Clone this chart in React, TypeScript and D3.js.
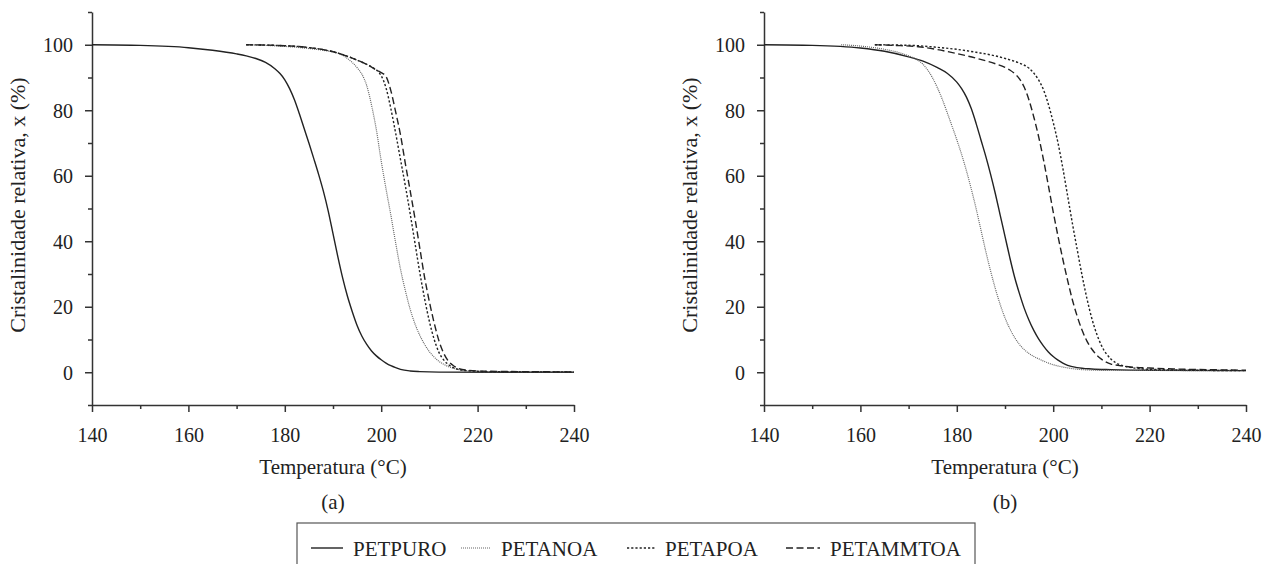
import React, { useEffect, useRef } from 'react';
import * as d3 from 'd3';

type Pt = [number, number];

// panel (a)
const petpuroA: Pt[] = [
  [140, 100], [150, 99.8], [160, 99.1], [165, 98.3], [170, 97.2], [172, 96.6], [174, 95.8], [176, 94.6],
  [178, 92.6], [179, 91.2], [180, 89.3], [181, 86.6], [182, 83.2], [183, 79], [184, 74.5], [185, 70],
  [186, 65.3], [187, 60.5], [188, 55.3], [189, 49.3], [190, 42.3], [191, 35.3], [192, 28.8], [193, 23.2],
  [194, 18.5], [195, 14.3], [196, 11], [197, 8.5], [198, 6.5], [199, 5], [200, 3.8], [201, 2.8],
  [202, 2.0], [203, 1.4], [204, 0.9], [206, 0.4], [208, 0.2], [212, 0.05], [240, 0],
];
const petanoaA: Pt[] = [
  [172, 100], [176, 99.8], [180, 99.5], [184, 99], [188, 98.3], [191, 97.5], [193, 95.8], [195, 93],
  [196, 91], [197, 87.5], [198, 81.5], [199, 74], [200, 64.5], [201, 56], [202, 48], [203, 39.5],
  [204, 31.5], [205, 25], [206, 19.3], [207, 14.8], [208, 11.3], [209, 8.5], [210, 6.3], [211, 4.6],
  [212, 3.3], [213, 2.4], [214, 1.7], [215, 1.2], [217, 0.6], [220, 0.3], [225, 0.1], [240, 0],
];
const petapoaA: Pt[] = [
  [172, 100], [176, 99.9], [180, 99.7], [184, 99.3], [188, 98.5], [192, 97], [195, 95.3], [197, 94],
  [198.5, 92.8], [199.5, 91.6], [200.5, 89], [201, 86.8], [202, 80.5], [203, 73], [204, 65], [205, 57],
  [206, 48.5], [207, 39.5], [208, 30.5], [209, 22.5], [210, 15.5], [211, 10], [212, 6], [213, 3.7],
  [214, 2.3], [215, 1.4], [217, 0.6], [220, 0.3], [225, 0.15], [240, 0.1],
];
const petammtoaA: Pt[] = [
  [172, 100], [176, 99.9], [180, 99.7], [184, 99.3], [188, 98.5], [192, 97], [195, 95.3], [197, 94],
  [199, 92.3], [200, 91.5], [201, 90.3], [202, 86], [203, 79.5], [204, 72.5], [205, 63.8], [206, 55.5],
  [207, 47], [208, 38], [209, 29], [210, 21.5], [211, 15], [212, 9.5], [213, 5.7], [214, 3.3],
  [215, 2], [216, 1.2], [218, 0.6], [222, 0.3], [240, 0.1],
];

// panel (b)
const petpuroB: Pt[] = [
  [140, 100], [150, 99.8], [160, 99], [165, 98], [170, 96.3], [173, 95], [176, 93], [178, 91.3],
  [180, 88.6], [181, 86.6], [182, 84], [183, 80.5], [184, 76], [185, 71], [186, 66], [187, 60.5],
  [188, 54.5], [189, 48], [190, 41.5], [191, 35], [192, 29], [193, 24], [194, 19.5], [195, 15.8],
  [196, 12.7], [197, 10.1], [198, 8], [199, 6.2], [200, 4.8], [201, 3.7], [202, 2.8], [203, 2.1],
  [205, 1.4], [208, 1.0], [212, 0.8], [220, 0.6], [240, 0.5],
];
const petanoaB: Pt[] = [
  [156, 100], [160, 99.6], [165, 98.6], [168, 97.6], [170, 96.6], [172, 95.2], [173, 94], [174, 92.2],
  [175, 89.8], [176, 86.8], [177, 83.3], [178, 79.3], [179, 75.2], [180, 71], [181, 66.5], [182, 61.5],
  [183, 56], [184, 50], [185, 43.5], [186, 37], [187, 31], [188, 25.5], [189, 20.7], [190, 16.6],
  [191, 13.3], [192, 10.6], [193, 8.5], [194, 6.9], [195, 5.7], [196, 4.8], [197, 4.1], [198, 3.4],
  [199, 2.8], [200, 2.3], [202, 1.6], [204, 1.1], [206, 0.8], [210, 0.6], [240, 0.5],
];
const petapoaB: Pt[] = [
  [163, 100], [168, 99.9], [172, 99.7], [176, 99.2], [180, 98.6], [184, 97.7], [188, 96.6], [191, 95.4],
  [193, 94.4], [195, 92.8], [196, 91.3], [197, 89.2], [198, 86.2], [199, 81.8], [200, 76.3], [201, 70],
  [202, 62.3], [203, 53.8], [204, 45.3], [205, 37.3], [206, 29.5], [207, 22.5], [208, 16.5], [209, 11.8],
  [210, 8.2], [211, 5.7], [212, 4], [213, 2.9], [214, 2.2], [216, 1.5], [218, 1.1], [222, 0.8],
  [230, 0.6], [240, 0.5],
];
const petammtoaB: Pt[] = [
  [163, 100], [167, 99.8], [172, 99.4], [176, 98.5], [180, 97.3], [184, 95.9], [188, 94.2], [190, 93.1],
  [191, 92.3], [192, 91.2], [193, 89.6], [194, 87], [195, 83], [196, 77.8], [197, 71.8], [198, 64.8],
  [199, 57], [200, 49], [201, 41.5], [202, 34.5], [203, 28], [204, 22], [205, 17], [206, 12.8],
  [207, 9.5], [208, 7.1], [209, 5.3], [210, 4], [211, 3.1], [212, 2.5], [214, 2], [216, 1.6],
  [220, 1.3], [225, 1.0], [232, 0.8], [240, 0.6],
];

const seriesNames = ['PETPURO', 'PETANOA', 'PETAPOA', 'PETAMMTOA'];
const panelLabels = ['(a)', '(b)'];
const xTicks = [140, 160, 180, 200, 220, 240];
const xMinor = [150, 170, 190, 210, 230];
const yTicks = [0, 20, 40, 60, 80, 100];
const yMinor = [-10, 10, 30, 50, 70, 90, 110];

const styles = [
  { dash: null, color: '#222', width: 1.4 },
  { dash: '1,1', color: '#666', width: 1.2 },
  { dash: '2.2,2', color: '#222', width: 1.4 },
  { dash: '7,3.5', color: '#222', width: 1.4 },
];

const FONT = "'Liberation Serif', 'Times New Roman', Times, serif";
const W = 1263;
const H = 564;

const App = () => {
  const svgRef = useRef<SVGSVGElement>(null);

  useEffect(() => {
    const svg = d3.select(svgRef.current);
    svg.selectAll('*').remove();

    const panels = [
      { left: 92, data: [petpuroA, petanoaA, petapoaA, petammtoaA] },
      { left: 764, data: [petpuroB, petanoaB, petapoaB, petammtoaB] },
    ];
    const top = 12;
    const bottom = 405;
    const pw = 482;

    panels.forEach((p, pi) => {
      const x = d3.scaleLinear().domain([140, 240]).range([p.left, p.left + pw]);
      const y = d3.scaleLinear().domain([-10, 110]).range([bottom, top]);
      const g = svg.append('g');

      // minor ticks
      g.append('g')
        .attr('transform', `translate(0,${bottom})`)
        .call(d3.axisBottom(x).tickValues(xMinor).tickSize(4).tickFormat(() => ''))
        .call((s) => s.select('.domain').remove());
      g.append('g')
        .attr('transform', `translate(${p.left},0)`)
        .call(d3.axisLeft(y).tickValues(yMinor).tickSize(4).tickFormat(() => ''))
        .call((s) => s.select('.domain').remove());

      const xa = g.append('g')
        .attr('transform', `translate(0,${bottom})`)
        .call(d3.axisBottom(x).tickValues(xTicks).tickSize(7).tickPadding(16).tickSizeOuter(0));
      const ya = g.append('g')
        .attr('transform', `translate(${p.left},0)`)
        .call(d3.axisLeft(y).tickValues(yTicks).tickSize(7).tickPadding(12).tickSizeOuter(0));

      [xa, ya].forEach((a) => {
        a.selectAll('text').style('font-family', FONT).style('font-size', '20px').attr('fill', '#222');
      });
      ya.selectAll('text').attr('dy', '0.34em');
      g.selectAll('.domain, .tick line').attr('stroke', '#333').attr('stroke-width', 1.5);

      const line = d3.line<Pt>()
        .x((d) => x(d[0]))
        .y((d) => y(d[1]))
        .curve(d3.curveMonotoneX);

      p.data.forEach((ser, i) => {
        const st = styles[i];
        g.append('path')
          .attr('d', line(ser))
          .attr('fill', 'none')
          .attr('stroke', st.color)
          .attr('stroke-width', st.width)
          .attr('stroke-dasharray', st.dash);
      });

      const cx = p.left + pw / 2;
      g.append('text')
        .attr('x', cx).attr('y', 474)
        .attr('text-anchor', 'middle')
        .style('font-family', FONT).style('font-size', '21px').attr('fill', '#222')
        .text('Temperatura (°C)');
      g.append('text')
        .attr('x', cx).attr('y', 509)
        .attr('text-anchor', 'middle')
        .style('font-family', FONT).style('font-size', '21px').attr('fill', '#222')
        .text(panelLabels[pi]);
      g.append('text')
        .attr('transform', `translate(${p.left - 67},205) rotate(-90)`)
        .attr('text-anchor', 'middle')
        .style('font-family', FONT).style('font-size', '22px').attr('fill', '#222')
        .text('Cristalinidade relativa, x (%)');
    });

    // legend
    const lg = svg.append('g');
    lg.append('rect')
      .attr('x', 297).attr('y', 523).attr('width', 678).attr('height', 50)
      .attr('fill', 'none').attr('stroke', '#555').attr('stroke-width', 1.2);
    const starts = [311, 461, 627, 786];
    const lens = [32, 30, 28, 34];
    seriesNames.forEach((name, i) => {
      const st = styles[i];
      const sx = starts[i];
      lg.append('line')
        .attr('x1', sx).attr('x2', sx + lens[i]).attr('y1', 548).attr('y2', 548)
        .attr('stroke', st.color).attr('stroke-width', st.width)
        .attr('stroke-dasharray', st.dash);
      lg.append('text')
        .attr('x', sx + lens[i] + 10).attr('y', 556)
        .style('font-family', FONT).style('font-size', '21px').attr('fill', '#222')
        .text(name);
    });
  }, []);

  return (
    <svg
      ref={svgRef}
      width={W}
      height={H}
      style={{ position: 'absolute', left: 0, top: 0, background: '#fff' }}
    />
  );
};

export default App;
